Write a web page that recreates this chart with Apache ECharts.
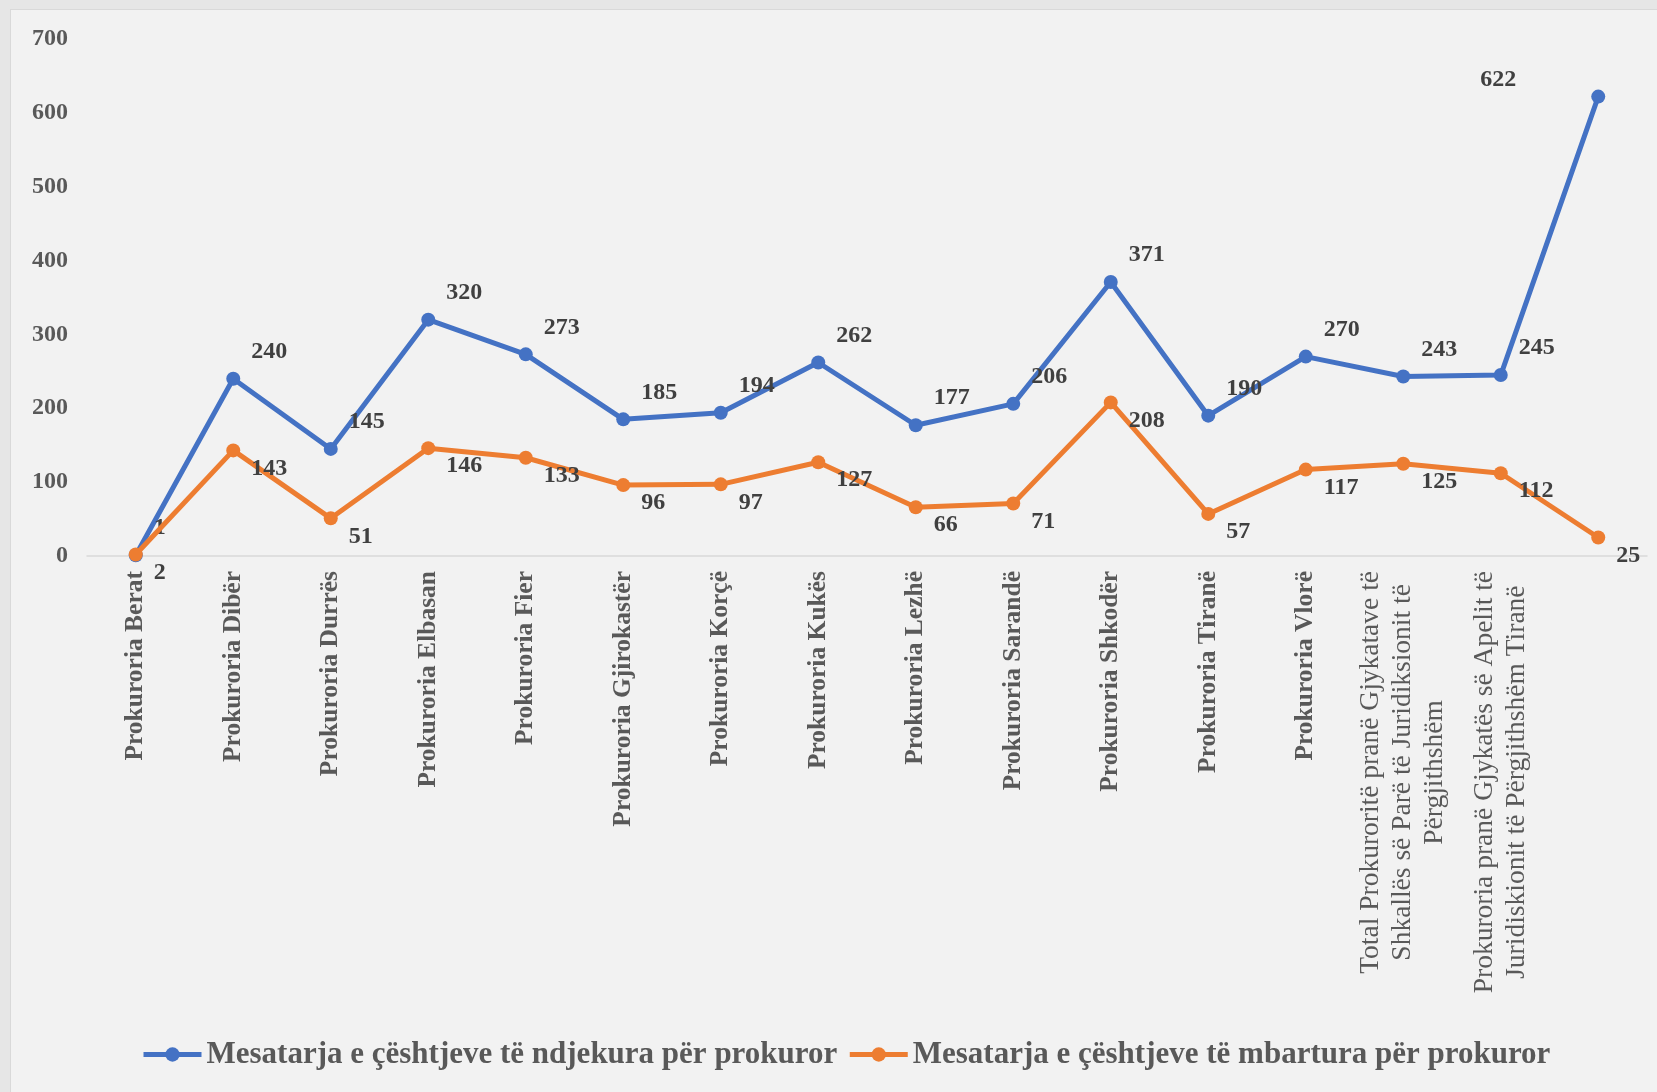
<!DOCTYPE html>
<html>
<head>
<meta charset="utf-8">
<script src="https://cdn.jsdelivr.net/npm/echarts@6/dist/echarts.min.js"></script>
<style>
html,body{margin:0;padding:0;width:1657px;height:1092px;overflow:hidden;background:#e6e6e6;}
#frame{position:absolute;left:10px;top:9px;right:0;bottom:0;background:#f2f2f2;border-left:1px solid #d9d9d9;border-top:1px solid #d9d9d9;}
#chart{position:absolute;left:0;top:0;width:1657px;height:1092px;}
</style>
</head>
<body>
<div id="frame"></div>
<div id="chart"></div>
<script>
var categories = [
  'Prokuroria Berat','Prokuroria Dibër','Prokuroria Durrës','Prokuroria Elbasan','Prokuroria Fier',
  'Prokuroria Gjirokastër','Prokuroria Korçë','Prokuroria Kukës','Prokuroria Lezhë','Prokuroria Sarandë',
  'Prokuroria Shkodër','Prokuroria Tiranë','Prokuroria Vlorë',
  'Total Prokuroritë pranë Gjykatave të\nShkallës së Parë të Juridiksionit të\nPërgjithshëm',
  'Prokuroria pranë Gjykatës së Apelit të\nJuridiskionit të Përgjithshëm Tiranë',
  ''
];
var seriesNames = ['Mesatarja e çështjeve të ndjekura për prokuror','Mesatarja e çështjeve të mbartura për prokuror'];
var ndjekura = [1,240,145,320,273,185,194,262,177,206,371,190,270,243,245,622];
var mbartura = [2,143,51,146,133,96,97,127,66,71,208,57,117,125,112,25];
var yTicks = [0,100,200,300,400,500,600,700];

var FONT = 'Liberation Serif';
var chart = echarts.init(document.getElementById('chart'), null, {renderer:'canvas'});

var blueData = ndjekura.map(function(v,i){
  if (i === ndjekura.length - 1) {
    return {value:v, label:{offset:[-118,-17]}};
  }
  return v;
});

var xData = categories.map(function(c){
  if (c.indexOf('\n') >= 0) {
    return {value:c, textStyle:{fontWeight:'normal'}};
  }
  return c;
});

var option = {
  animation:false,
  backgroundColor:'transparent',
  textStyle:{fontFamily:FONT},
  grid:{left:87,right:10,top:39,bottom:536,containLabel:false},
  xAxis:{
    type:'category',
    data:xData,
    boundaryGap:true,
    axisLine:{show:true,lineStyle:{color:'#d9d9d9',width:1.5}},
    axisTick:{show:false},
    axisLabel:{
      interval:0,rotate:90,margin:15,
      fontFamily:FONT,fontSize:25.5,fontWeight:'bold',color:'#595959',
      lineHeight:32,
      formatter:function(v){
        if (v.indexOf('\n') >= 0) {
          return v.split('\n').map(function(l){return '{c|'+l+'}';}).join('\n');
        }
        return v;
      },
      rich:{c:{align:'center',fontFamily:FONT,fontSize:27.5,fontWeight:'normal',color:'#595959',lineHeight:32}}
    }
  },
  yAxis:{
    type:'value',min:0,max:700,interval:100,
    axisLine:{show:false},axisTick:{show:false},splitLine:{show:false},
    axisLabel:{margin:19,fontFamily:FONT,fontSize:24,fontWeight:'bold',color:'#595959'}
  },
  legend:{
    left:136,top:1034,itemWidth:58,itemHeight:18,itemGap:10,
    lineStyle:{width:5},
    textStyle:{fontFamily:FONT,fontSize:31,fontWeight:'bold',color:'#595959'},
    data:seriesNames
  },
  series:[
    {
      name:seriesNames[0],type:'line',data:blueData,
      symbol:'circle',symbolSize:14,
      lineStyle:{color:'#4472C4',width:5},
      itemStyle:{color:'#4472C4'},
      label:{show:true,position:'inside',align:'left',verticalAlign:'middle',offset:[18,-27],
        fontFamily:FONT,fontSize:24,fontWeight:'bold',color:'#404040'},
      z:3
    },
    {
      name:seriesNames[1],type:'line',data:mbartura,
      symbol:'circle',symbolSize:14,
      lineStyle:{color:'#ED7D31',width:5},
      itemStyle:{color:'#ED7D31'},
      label:{show:true,position:'inside',align:'left',verticalAlign:'middle',offset:[18,18],
        fontFamily:FONT,fontSize:24,fontWeight:'bold',color:'#404040'},
      z:4
    }
  ]
};
chart.setOption(option);
</script>
</body>
</html>
